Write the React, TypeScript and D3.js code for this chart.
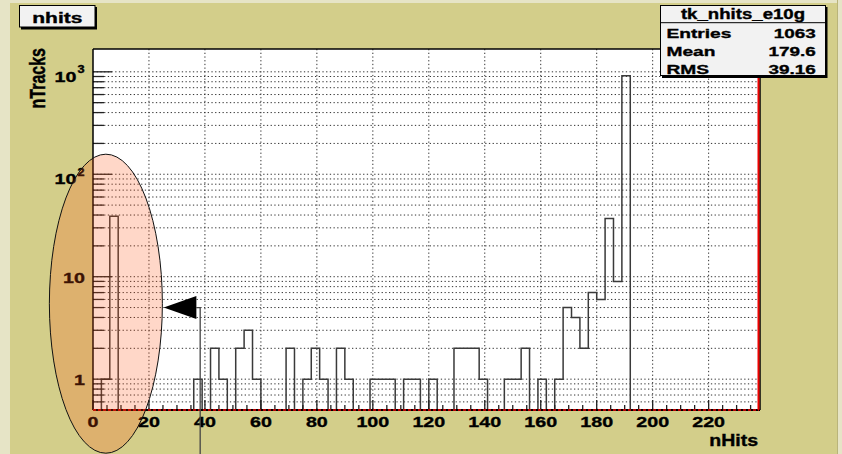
import React from "react";
import * as d3 from "d3";

// Histogram contents: low edge of each filled bin (bin width 3) and its count
const binWidth = 3;
const binLow = [3, 6, 36, 42, 45, 51, 54, 57, 69, 75, 78, 81, 87, 90, 99, 102, 105, 111, 114, 120, 129, 132, 135, 138, 147, 150, 153, 159, 165, 168, 171, 174, 177, 180, 183, 186, 189];
const binCount = [1, 39, 1, 2, 1, 2, 3, 1, 2, 1, 2, 1, 2, 1, 1, 1, 1, 1, 1, 1, 2, 2, 2, 1, 1, 1, 2, 1, 1, 5, 4, 2, 7, 6, 37, 9, 915];

const xTicks = [0, 20, 40, 60, 80, 100, 120, 140, 160, 180, 200, 220];
const yMajor = [1, 10, 100, 1000];
const yLabels = [
  { v: 1, base: "1", sup: "" },
  { v: 10, base: "10", sup: "" },
  { v: 100, base: "10", sup: "2" },
  { v: 1000, base: "10", sup: "3" },
];

const statsTitle = "tk_nhits_e10g";
const statNames = ["Entries", "Mean", "RMS"];
const statValues = ["1063", "179.6", "39.16"];

const histTitle = "nhits";
const xTitle = "nHits";
const yTitle = "nTracks";

// annotation: arrow marker at nHits≈38.3, count 5
const arrowAt = { x: 38.3, y: 5 };

const W = 842;
const H = 454;
const FONT = "'Liberation Sans', Arial, sans-serif";
const BG = "#d3ce8a";

const frame = { left: 93, right: 759, top: 49, bottom: 410 };

function T(props: {
  x: number; y: number; size: number; sx: number; anchor?: string; children: React.ReactNode; fill?: string;
}) {
  const { x, y, size, sx, anchor = "start", children, fill = "#000" } = props;
  return (
    <text
      transform={`translate(${x},${y}) scale(${sx},1)`}
      fontFamily={FONT}
      fontWeight="bold"
      fontSize={size}
      textAnchor={anchor}
      fill={fill}
      stroke={fill}
      strokeWidth={0.35}
    >
      {children}
    </text>
  );
}

export default function App() {
  const x = d3.scaleLinear().domain([0, 238]).range([frame.left, frame.right]);
  const y = d3.scaleLog().domain([0.5, 1670]).range([frame.bottom, frame.top]);

  // full bin contents 0..240
  const nBins = 80;
  const counts = new Array(nBins).fill(0);
  binLow.forEach((lo, i) => {
    counts[Math.round(lo / binWidth)] = binCount[i];
  });

  const yb = frame.bottom;
  let path = `M${x(0)},${yb}`;
  counts.forEach((c, i) => {
    const yy = c > 0 ? y(c) : yb;
    path += `L${x(i * binWidth)},${yy}L${x((i + 1) * binWidth)},${yy}`;
  });
  path += `L${x(nBins * binWidth)},${yb}`;

  // log grid values
  const yGrid: number[] = [];
  [0.1, 1, 10, 100, 1000].forEach((dec) => {
    for (let m = 1; m <= 9; m++) {
      const v = dec * m;
      if (v > 0.5 && v < 1670) yGrid.push(v);
    }
  });
  const xMinor: number[] = d3.range(0, 239, 5).filter((v) => v % 20 !== 0);

  const gridStyle = { stroke: "#333", strokeWidth: 1, strokeDasharray: "1.3,2.4" };

  const ax = x(arrowAt.x);
  const ay = y(arrowAt.y);

  return (
    <svg
      width={W}
      height={H}
      style={{ position: "absolute", left: 0, top: 0 }}
      viewBox={`0 0 ${W} ${H}`}
    >
      <defs>
        <clipPath id="plotClip">
          <rect x={frame.left} y={frame.top} width={frame.right - frame.left} height={frame.bottom - frame.top} />
        </clipPath>
      </defs>
      <rect x={0} y={0} width={W} height={H} fill={BG} />
      <rect x={0} y={0} width={10} height={H} fill="#e6e4c6" />
      <rect x={0} y={0} width={W} height={3} fill="#e6e4c6" />
      <rect x={837} y={0} width={1} height={H} fill="#b9b47a" />
      <rect x={838} y={0} width={4} height={H} fill="#e6e4c6" />

      {/* plot area */}
      <rect x={frame.left} y={frame.top} width={frame.right - frame.left} height={frame.bottom - frame.top} fill="#fff" />

      {/* grid */}
      <g>
        {yGrid.map((v) => (
          <line key={"gy" + v} x1={frame.left} x2={frame.right} y1={y(v)} y2={y(v)} style={gridStyle} />
        ))}
        {xTicks.filter((v) => v > 0).map((v) => (
          <line key={"gx" + v} x1={x(v)} x2={x(v)} y1={frame.top} y2={frame.bottom} style={gridStyle} />
        ))}
      </g>

      {/* histogram */}
      <path d={path} fill="none" stroke="#3a3a3a" strokeWidth={1.5} clipPath="url(#plotClip)" />

      {/* axis ticks */}
      <g stroke="#222" strokeWidth={1.3}>
        {yGrid.map((v) => (
          <line key={"ty" + v} x1={frame.left} x2={frame.left + (yMajor.includes(v) ? 19 : 11)} y1={y(v)} y2={y(v)} />
        ))}
        {xTicks.map((v) => (
          <line key={"tx" + v} x1={x(v)} x2={x(v)} y1={frame.bottom} y2={frame.bottom - 10} />
        ))}
        {xMinor.map((v) => (
          <line key={"tm" + v} x1={x(v)} x2={x(v)} y1={frame.bottom} y2={frame.bottom - 5} />
        ))}
      </g>

      {/* frame */}
      <line x1={frame.left} x2={frame.right} y1={frame.top} y2={frame.top} stroke="#000" strokeWidth={1.5} />
      <line x1={frame.left} x2={frame.left} y1={frame.top} y2={frame.bottom} stroke="#000" strokeWidth={1.5} />
      <line x1={frame.left} x2={frame.right + 1} y1={frame.bottom} y2={frame.bottom} stroke="#000" strokeWidth={2} />
      <line x1={frame.left} x2={frame.right} y1={frame.bottom} y2={frame.bottom} stroke="#e00" strokeWidth={1.5} strokeDasharray="3,2" />
      <line x1={frame.right + 1} x2={frame.right + 1} y1={frame.top} y2={frame.bottom} stroke="#000" strokeWidth={1.5} />
      <line x1={frame.right - 0.5} x2={frame.right - 0.5} y1={frame.top} y2={frame.bottom} stroke="#e00" strokeWidth={2} />

      {/* x tick labels */}
      {xTicks.map((v) => (
        <T key={"lx" + v} x={x(v)} y={426.5} size={15.5} sx={1.27} anchor="middle">
          {String(v)}
        </T>
      ))}

      {/* y tick labels */}
      {yLabels.map((l) =>
        l.sup ? (
          <g key={"ly" + l.v}>
            <T x={76.5} y={y(l.v) + 9.8} size={15.5} sx={1.27} anchor="end">
              {l.base}
            </T>
            <T x={77.5} y={y(l.v) + 1.5} size={10} sx={1.27}>
              {l.sup}
            </T>
          </g>
        ) : (
          <T key={"ly" + l.v} x={85} y={y(l.v) + 5.8} size={15.5} sx={1.27} anchor="end">
            {l.base}
          </T>
        )
      )}

      {/* axis titles */}
      <text
        transform={`translate(45,48) scale(1.38,1) rotate(-90)`}
        fontFamily={FONT}
        fontWeight="bold"
        fontSize={16}
        textAnchor="end"
        stroke="#000"
        strokeWidth={0.35}
      >
        {yTitle}
      </text>
      <T x={758} y={445.7} size={16} sx={1.22} anchor="end">
        {xTitle}
      </T>

      {/* histogram title box */}
      <rect x={21} y={7} width={76} height={22.5} fill="#000" />
      <rect x={19.5} y={5.5} width={75.5} height={21.5} fill="#f2f2f2" stroke="#000" strokeWidth={1} />
      <T x={57.3} y={23.2} size={14.5} sx={1.45} anchor="middle">
        {histTitle}
      </T>

      {/* statistics box */}
      <rect x={662} y={7} width={165.5} height={71} fill="#000" />
      <rect x={660.5} y={5.5} width={165} height={70} fill="#f2f2f2" stroke="#000" strokeWidth={1} />
      <line x1={660.5} x2={825.5} y1={22.7} y2={22.7} stroke="#000" strokeWidth={1} />
      <T x={743} y={18.5} size={14} sx={1.33} anchor="middle">
        {statsTitle}
      </T>
      {statNames.map((n, i) => (
        <g key={n}>
          <T x={666.5} y={37.5 + i * 18.3} size={13.5} sx={1.42}>
            {n}
          </T>
          <T x={815.7} y={37.5 + i * 18.3} size={13.5} sx={1.4} anchor="end">
            {statValues[i]}
          </T>
        </g>
      ))}

      {/* highlight ellipse over the low-nHits region */}
      <ellipse
        cx={x(4.6)}
        cy={303.7}
        rx={56.5}
        ry={149.5}
        fill="rgb(255,81,16)"
        fillOpacity={0.23}
        stroke="#111"
        strokeWidth={1}
      />

      {/* arrow marker */}
      <path
        d={`M${ax - 36.5},${ay}L${ax - 3.8},${ay - 11.5}L${ax - 3.8},${ay + 11.5}Z`}
        fill="#000"
      />
      <path d={`M${ax - 3.8},${ay}L${ax},${ay}L${ax},${H}`} fill="none" stroke="#444" strokeWidth={1.3} />
    </svg>
  );
}
